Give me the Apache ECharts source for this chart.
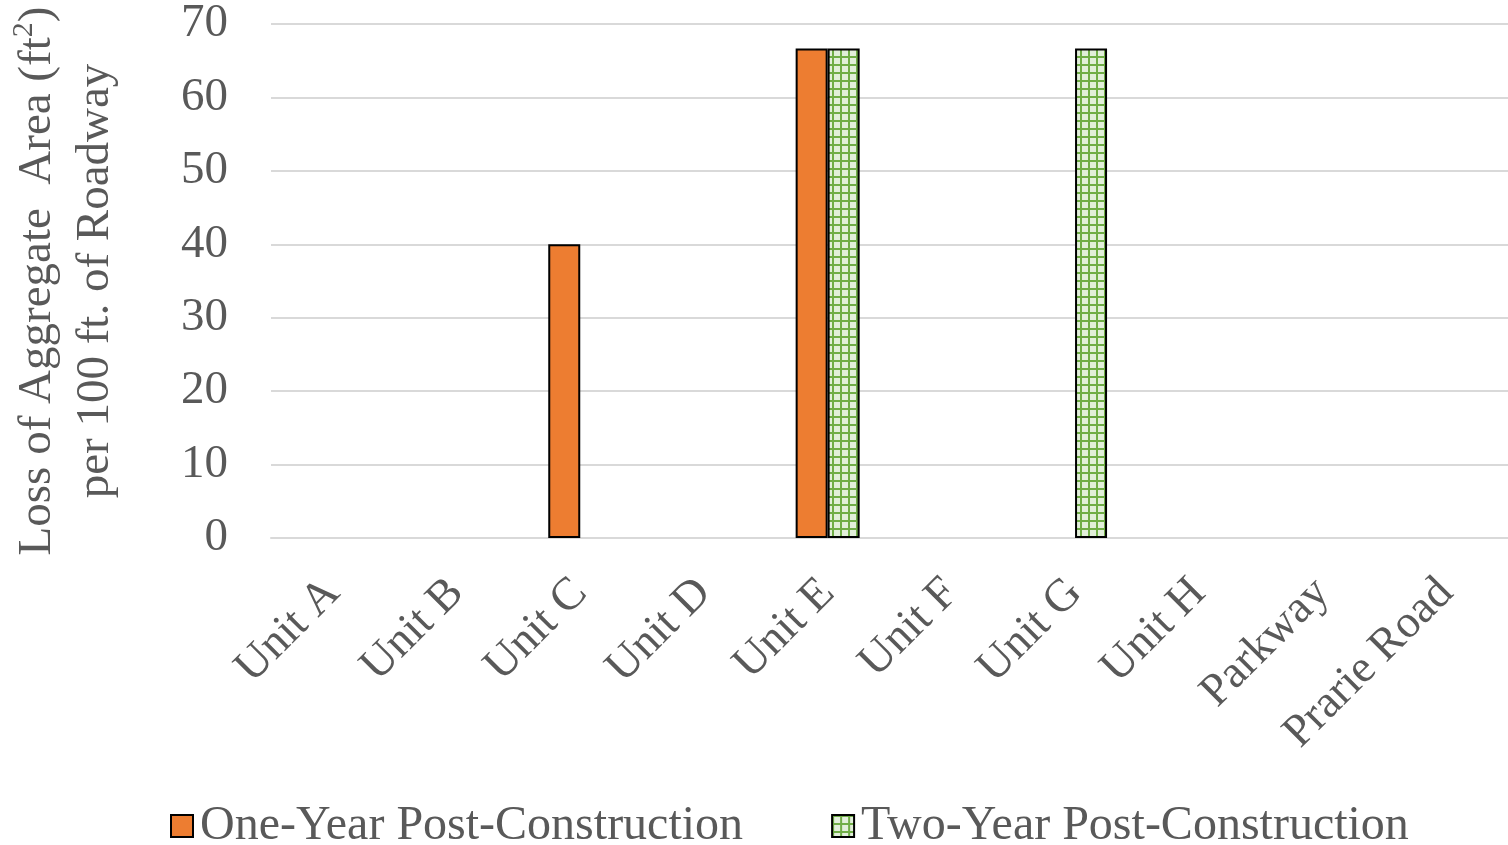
<!DOCTYPE html>
<html>
<head>
<meta charset="utf-8">
<script src="https://cdn.jsdelivr.net/npm/echarts@6/dist/echarts.min.js"></script>
<style>
  html, body { margin: 0; padding: 0; background: #fff; }
  #chart { width: 1508px; height: 845px; }
</style>
</head>
<body>
<div id="chart"></div>
<script>
// Loss of aggregate area per 100 ft of roadway, by section
const categories = ['Unit A', 'Unit B', 'Unit C', 'Unit D', 'Unit E', 'Unit F', 'Unit G', 'Unit H', 'Parkway', 'Prarie Road'];
const oneYear = [0, 0, 40, 0, 66.67, 0, 0, 0, 0, 0];
const twoYear = [0, 0, 0, 0, 66.67, 0, 66.67, 0, 0, 0];
const seriesNames = ['One-Year Post-Construction', 'Two-Year Post-Construction'];

// Small-grid fill used for the second series
function gridPattern() {
  const c = document.createElement('canvas');
  c.width = 8; c.height = 8;
  const g = c.getContext('2d');
  g.fillStyle = '#e2efda';
  g.fillRect(0, 0, 8, 8);
  g.fillStyle = '#70ad47';
  g.fillRect(0, 0, 8, 2);
  g.fillRect(0, 0, 2, 8);
  return c;
}
const pattern = { image: gridPattern(), repeat: 'repeat' };

// Zero-height bars get no outline so they stay invisible
function toItems(values) {
  return values.map(v => v === 0 ? { value: v, itemStyle: { borderWidth: 0 } } : v);
}

const font = 'Liberation Serif';
const grey = '#595959';
const chart = echarts.init(document.getElementById('chart'));
chart.setOption({
  animation: false,
  textStyle: { fontFamily: font },
  grid: { left: 271, right: 0, top: 24, bottom: 307, outerBoundsMode: 'none', containLabel: false },
  legend: {
    top: 797,
    left: 165,
    icon: 'rect',
    itemWidth: 22,
    itemHeight: 22,
    itemGap: 88,
    textStyle: { fontFamily: font, fontSize: 48, color: grey, padding: [0, 0, 0, 2] },
    data: seriesNames
  },
  xAxis: {
    type: 'category',
    data: categories,
    axisLine: { show: true, lineStyle: { color: '#d9d9d9', width: 2 } },
    axisTick: { show: false },
    axisLabel: { rotate: 45, fontSize: 46, color: grey, fontFamily: font, margin: 48, interval: 0 }
  },
  yAxis: {
    type: 'value',
    min: 0, max: 70, interval: 10,
    axisLine: { show: false },
    axisTick: { show: false },
    axisLabel: { fontSize: 47, color: grey, fontFamily: font, margin: 43 },
    splitLine: { lineStyle: { color: '#d9d9d9', width: 2 } },
    name: '{t|Loss of Aggregate  Area (ft}{s|2}{t|)}\n{t|per 100 ft. of Roadway}',
    nameLocation: 'middle',
    nameRotate: 90,
    nameGap: 146,
    nameTextStyle: {
      color: grey,
      fontFamily: font,
      lineHeight: 58,
      rich: {
        t: { fontSize: 47, fontFamily: font, color: grey, lineHeight: 58 },
        s: { fontSize: 30, fontFamily: font, color: grey, verticalAlign: 'top', lineHeight: 40 }
      }
    }
  },
  series: [
    {
      name: seriesNames[0],
      type: 'bar',
      data: toItems(oneYear),
      barWidth: 32,
      barGap: '0%',
      itemStyle: { color: '#ed7d31', borderColor: '#000', borderWidth: 2 }
    },
    {
      name: seriesNames[1],
      type: 'bar',
      data: toItems(twoYear),
      barWidth: 32,
      itemStyle: { color: pattern, borderColor: '#000', borderWidth: 2 }
    }
  ]
});
</script>
</body>
</html>
